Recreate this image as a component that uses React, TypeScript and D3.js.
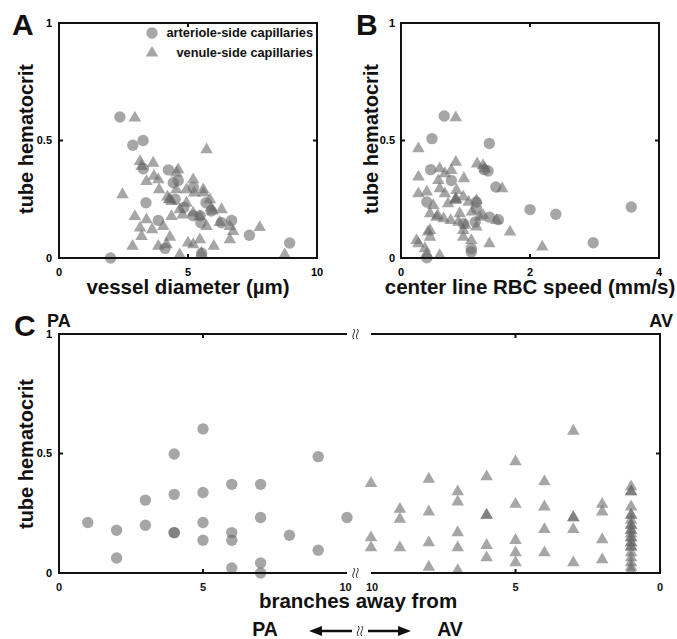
import React from 'react';
import * as d3 from 'd3';

// ---------- Data ----------
// Panel A: vessel diameter (µm) vs tube hematocrit
const aArtDiam = [2.36, 2.0, 2.86, 3.26, 3.27, 3.37, 3.85, 4.24, 4.43, 4.62, 4.84, 5.21, 5.47, 5.7, 6.69, 7.38, 8.94, 4.11, 5.53, 5.5, 5.9, 4.5, 6.3, 5.2];
const aArtHct = [0.6, 0.0, 0.48, 0.5, 0.38, 0.235, 0.16, 0.375, 0.32, 0.33, 0.215, 0.3, 0.18, 0.235, 0.16, 0.097, 0.064, 0.041, 0.02, 0.15, 0.2, 0.25, 0.15, 0.18];
const aVenDiam = [2.94, 2.46, 5.72, 3.14, 3.2, 3.65, 3.68, 3.85, 3.88, 3.39, 4.62, 4.55, 4.27, 4.36, 4.55, 4.94, 5.2, 5.24, 5.59, 5.6, 4.68, 4.79, 4.36, 2.94, 3.39, 3.14, 3.61, 4.04, 4.3, 3.2, 2.85, 3.85, 4.17, 4.68, 5.0, 5.2, 5.46, 6.0, 5.2, 5.46, 5.72, 5.9, 6.3, 6.23, 6.62, 6.75, 6.62, 7.78, 8.75, 5.52, 4.94, 5.85, 4.3, 4.2, 5.95];
const aVenHct = [0.596, 0.27, 0.461, 0.411, 0.39, 0.404, 0.348, 0.333, 0.291, 0.326, 0.376, 0.362, 0.248, 0.241, 0.291, 0.291, 0.333, 0.277, 0.291, 0.277, 0.206, 0.184, 0.177, 0.177, 0.163, 0.128, 0.121, 0.135, 0.089, 0.092, 0.05, 0.05, 0.057, 0.014, 0.064, 0.057, 0.078, 0.05, 0.192, 0.177, 0.135, 0.213, 0.206, 0.152, 0.135, 0.113, 0.078, 0.13, 0.014, 0.021, 0.234, 0.248, 0.25, 0.26, 0.2];

// Panel B: center line RBC speed (mm/s) vs tube hematocrit
const bArtSpeed = [0.67, 0.48, 1.37, 0.46, 1.29, 0.78, 1.47, 0.4, 1.17, 1.17, 2.0, 2.4, 3.57, 1.37, 1.51, 0.97, 1.15, 2.98, 1.09, 1.09, 0.4, 1.35];
const bArtHct = [0.604, 0.508, 0.487, 0.376, 0.376, 0.33, 0.302, 0.238, 0.238, 0.21, 0.206, 0.186, 0.217, 0.174, 0.163, 0.146, 0.153, 0.065, 0.04, 0.026, 0.001, 0.37];
const bVenSpeed = [0.85, 0.27, 0.27, 0.27, 0.4, 0.6, 0.85, 0.78, 0.975, 1.18, 1.27, 0.58, 0.6, 0.68, 0.86, 0.965, 0.84, 0.85, 0.55, 0.66, 0.45, 0.73, 1.1, 0.45, 0.45, 0.27, 0.37, 0.6, 0.4, 0.965, 0.965, 1.17, 1.27, 1.37, 1.48, 1.57, 1.69, 2.19, 0.89, 0.77, 1.05, 0.5, 0.42, 0.24, 0.68, 1.22, 1.09, 1.17, 0.91, 0.85, 0.57, 1.3, 1.0];
const bVenHct = [0.597, 0.465, 0.345, 0.274, 0.281, 0.38, 0.408, 0.373, 0.338, 0.401, 0.394, 0.33, 0.295, 0.274, 0.288, 0.26, 0.245, 0.252, 0.174, 0.167, 0.189, 0.231, 0.196, 0.118, 0.089, 0.061, 0.04, 0.011, 0.018, 0.089, 0.118, 0.132, 0.182, 0.061, 0.16, 0.295, 0.111, 0.047, 0.153, 0.16, 0.238, 0.224, 0.111, 0.075, 0.359, 0.174, 0.075, 0.245, 0.189, 0.25, 0.18, 0.38, 0.14];

// Panel C: branches away from PA (circles) / AV (triangles)
const cArtBranch = [1, 2, 2, 3, 3, 4, 4, 4, 4, 5, 5, 5, 5, 6, 6, 6, 6, 7, 7, 7, 7, 8, 9, 9, 10];
const cArtHct = [0.211, 0.179, 0.063, 0.305, 0.2, 0.498, 0.329, 0.169, 0.169, 0.603, 0.337, 0.211, 0.137, 0.371, 0.169, 0.137, 0.021, 0.371, 0.232, 0.042, 0.0, 0.158, 0.487, 0.095, 0.232];
const cVenBranch = [10, 10, 10, 9, 9, 9, 8, 8, 8, 8, 7, 7, 7, 7, 7, 6, 6, 6, 6, 6, 5, 5, 5, 5, 5, 4, 4, 4, 4, 3, 3, 3, 3, 3, 2, 2, 2, 2, 1, 1, 1, 1, 1, 1, 1, 1, 1, 1, 1, 1, 1, 1, 1, 1, 1, 1, 1, 1, 1, 1, 1];
const cVenHct = [0.375, 0.148, 0.106, 0.267, 0.225, 0.106, 0.393, 0.256, 0.127, 0.025, 0.34, 0.298, 0.169, 0.106, 0.011, 0.403, 0.242, 0.242, 0.116, 0.064, 0.466, 0.288, 0.137, 0.085, 0.043, 0.382, 0.277, 0.182, 0.085, 0.594, 0.232, 0.232, 0.182, 0.043, 0.288, 0.256, 0.14, 0.056, 0.361, 0.34, 0.34, 0.277, 0.242, 0.242, 0.221, 0.2, 0.179, 0.179, 0.165, 0.148, 0.148, 0.127, 0.109, 0.109, 0.085, 0.064, 0.043, 0.025, 0.011, 0.2, 0.127];

const hctTicks = [0, 0.5, 1];
const hctTickLabels = ['0', '0.5', '1'];

// ---------- Style ----------
const FONT = "'Liberation Sans', Arial, Helvetica, sans-serif";
const MARK_FILL = '#666';
const MARK_OP = 0.58;
const CIRCLE_R = 5.7;
const TRI_SIZE = 68;

const triPath = d3.symbol().type(d3.symbolTriangle).size(TRI_SIZE)() as string;

type Scale = (v: number) => number;

function Circles({ xs, ys, sx, sy }: { xs: number[]; ys: number[]; sx: Scale; sy: Scale }) {
  return (
    <g>
      {xs.map((x, i) => (
        <circle key={i} cx={sx(x)} cy={sy(ys[i])} r={CIRCLE_R} fill={MARK_FILL} fillOpacity={MARK_OP} />
      ))}
    </g>
  );
}

function Triangles({ xs, ys, sx, sy }: { xs: number[]; ys: number[]; sx: Scale; sy: Scale }) {
  return (
    <g>
      {xs.map((x, i) => (
        <path key={i} d={triPath} transform={`translate(${sx(x)},${sy(ys[i])})`} fill={MARK_FILL} fillOpacity={MARK_OP} />
      ))}
    </g>
  );
}

function YTickLabels({ sy, x }: { sy: Scale; x: number }) {
  return (
    <g>
      {hctTicks.map((t, i) => (
        <text key={i} x={x} y={sy(t)} dy="0.35em" textAnchor="end" fontSize={11} fontWeight="bold" fontFamily={FONT}>
          {hctTickLabels[i]}
        </text>
      ))}
    </g>
  );
}

function BoxPanel({ sx, sy, xTicks, xMid }: { sx: any; sy: any; xTicks: number[]; xMid: number }) {
  const [x0, x1] = sx.range();
  const [y0, y1] = sy.range();
  const t = 4;
  return (
    <g>
      <rect x={x0} y={y1} width={x1 - x0} height={y0 - y1} fill="none" stroke="#111" strokeWidth={2} />
      <line x1={x0} x2={x0 + t} y1={sy(0.5)} y2={sy(0.5)} stroke="#111" strokeWidth={2} />
      <line x1={x1} x2={x1 - t} y1={sy(0.5)} y2={sy(0.5)} stroke="#111" strokeWidth={2} />
      <line x1={sx(xMid)} x2={sx(xMid)} y1={y0} y2={y0 - t} stroke="#111" strokeWidth={2} />
      <line x1={sx(xMid)} x2={sx(xMid)} y1={y1} y2={y1 + t} stroke="#111" strokeWidth={2} />
      {xTicks.map((v, i) => (
        <text key={i} x={sx(v)} y={y0 + 18} textAnchor="middle" fontSize={11} fontWeight="bold" fontFamily={FONT}>
          {v}
        </text>
      ))}
    </g>
  );
}

function Squiggle({ x, y }: { x: number; y: number }) {
  const s = (cx: number) => `M${cx},${y - 5} C${cx + 3},${y - 2} ${cx - 3},${y + 1} ${cx},${y + 5}`;
  return (
    <g fill="none" stroke="#222" strokeWidth={1}>
      <path d={s(x - 1.8)} />
      <path d={s(x + 1.8)} />
    </g>
  );
}

export default function App() {
  // Panel A
  const axA = d3.scaleLinear().domain([0, 10]).range([59, 317]);
  const ayA = d3.scaleLinear().domain([0, 1]).range([258, 23]);
  // Panel B
  const bxB = d3.scaleLinear().domain([0, 4]).range([401, 659]);
  const byB = d3.scaleLinear().domain([0, 1]).range([258, 23]);
  // Panel C
  const cxL = d3.scaleLinear().domain([0, 10]).range([59, 347]);
  const cxR = d3.scaleLinear().domain([10, 0]).range([371, 660]);
  const cy = d3.scaleLinear().domain([0, 1]).range([573, 334]);

  const sw = 2;
  const stroke = '#111';
  const bold = { fontWeight: 'bold' as const, fontFamily: FONT, fill: '#111' };

  return (
    <svg width={677} height={639} style={{ position: 'absolute', left: 0, top: 0, background: '#fff' }}>
      <rect x={0} y={0} width={677} height={639} fill="#fff" />

      {/* ---------- Panel A ---------- */}
      <text x={12} y={35} fontSize={30} {...bold}>A</text>
      <Circles xs={aArtDiam} ys={aArtHct} sx={axA} sy={ayA} />
      <Triangles xs={aVenDiam} ys={aVenHct} sx={axA} sy={ayA} />
      <BoxPanel sx={axA} sy={ayA} xTicks={[0, 5, 10]} xMid={5} />
      <YTickLabels sy={ayA} x={52} />
      <text transform="translate(33,139) rotate(-90)" textAnchor="middle" fontSize={20} {...bold}>tube hematocrit</text>
      <text x={188} y={294} textAnchor="middle" fontSize={20.5} {...bold}>vessel diameter (µm)</text>
      {/* legend */}
      <circle cx={152} cy={33} r={CIRCLE_R} fill={MARK_FILL} fillOpacity={MARK_OP} />
      <text x={313} y={37} textAnchor="end" fontSize={12.8} {...bold}>arteriole-side capillaries</text>
      <path d={triPath} transform="translate(152,53)" fill={MARK_FILL} fillOpacity={MARK_OP} />
      <text x={313} y={57} textAnchor="end" fontSize={12.8} {...bold}>venule-side capillaries</text>

      {/* ---------- Panel B ---------- */}
      <text x={356} y={35} fontSize={30} {...bold}>B</text>
      <Circles xs={bArtSpeed} ys={bArtHct} sx={bxB} sy={byB} />
      <Triangles xs={bVenSpeed} ys={bVenHct} sx={bxB} sy={byB} />
      <BoxPanel sx={bxB} sy={byB} xTicks={[0, 2, 4]} xMid={2} />
      <YTickLabels sy={byB} x={395} />
      <text transform="translate(378,139) rotate(-90)" textAnchor="middle" fontSize={20} {...bold}>tube hematocrit</text>
      <text x={530} y={294} textAnchor="middle" fontSize={20.5} {...bold}>center line RBC speed (mm/s)</text>

      {/* ---------- Panel C ---------- */}
      <text x={14} y={336} fontSize={30} {...bold}>C</text>
      <text x={47} y={327} fontSize={18} {...bold}>PA</text>
      <text x={673} y={327} textAnchor="end" fontSize={18} {...bold}>AV</text>
      <Circles xs={cArtBranch} ys={cArtHct} sx={cxL} sy={cy} />
      <Triangles xs={cVenBranch} ys={cVenHct} sx={cxR} sy={cy} />
      {/* left segment frame */}
      <line x1={59} x2={59} y1={cy(1)} y2={cy(0)} stroke={stroke} strokeWidth={sw} />
      <line x1={58} x2={cxL(10)} y1={cy(1)} y2={cy(1)} stroke={stroke} strokeWidth={sw} />
      <line x1={58} x2={cxL(10)} y1={cy(0)} y2={cy(0)} stroke={stroke} strokeWidth={sw} />
      <line x1={59} x2={63} y1={cy(0.5)} y2={cy(0.5)} stroke={stroke} strokeWidth={sw} />
      <line x1={cxL(5)} x2={cxL(5)} y1={cy(0)} y2={cy(0) - 4} stroke={stroke} strokeWidth={sw} />
      <line x1={cxL(5)} x2={cxL(5)} y1={cy(1)} y2={cy(1) + 4} stroke={stroke} strokeWidth={sw} />
      {/* right segment frame */}
      <line x1={cxR(10)} x2={661} y1={cy(1)} y2={cy(1)} stroke={stroke} strokeWidth={sw} />
      <line x1={cxR(10)} x2={661} y1={cy(0)} y2={cy(0)} stroke={stroke} strokeWidth={sw} />
      <line x1={660} x2={660} y1={cy(1)} y2={cy(0)} stroke={stroke} strokeWidth={sw} />
      <line x1={660} x2={656} y1={cy(0.5)} y2={cy(0.5)} stroke={stroke} strokeWidth={sw} />
      <line x1={cxR(5)} x2={cxR(5)} y1={cy(0)} y2={cy(0) - 4} stroke={stroke} strokeWidth={sw} />
      <line x1={cxR(5)} x2={cxR(5)} y1={cy(1)} y2={cy(1) + 4} stroke={stroke} strokeWidth={sw} />
      <Squiggle x={355.5} y={cy(1)} />
      <Squiggle x={355.5} y={cy(0)} />
      <YTickLabels sy={cy} x={52} />
      {[0, 5, 10].map((v) => (
        <text key={'l' + v} x={cxL(v) - (v === 10 ? 1.5 : 0)} y={cy(0) + 18} textAnchor="middle" fontSize={11} {...bold}>{v}</text>
      ))}
      {[10, 5, 0].map((v) => (
        <text key={'r' + v} x={cxR(v) + (v === 10 ? 1 : 0)} y={cy(0) + 18} textAnchor="middle" fontSize={11} {...bold}>{v}</text>
      ))}
      <text transform="translate(33,454) rotate(-90)" textAnchor="middle" fontSize={20} {...bold}>tube hematocrit</text>
      <text x={358} y={608} textAnchor="middle" fontSize={20.5} {...bold}>branches away from</text>
      <text x={265} y={636} textAnchor="middle" fontSize={19.5} {...bold}>PA</text>
      <text x={450} y={636} textAnchor="middle" fontSize={19.5} {...bold}>AV</text>
      {/* arrows */}
      <line x1={318} x2={352} y1={631} y2={631} stroke={stroke} strokeWidth={2.5} />
      <polygon points="309,631 322,626 322,636" fill={stroke} />
      <line x1={368} x2={402} y1={631} y2={631} stroke={stroke} strokeWidth={2.5} />
      <polygon points="411,631 398,626 398,636" fill={stroke} />
      <Squiggle x={360} y={631} />
    </svg>
  );
}
